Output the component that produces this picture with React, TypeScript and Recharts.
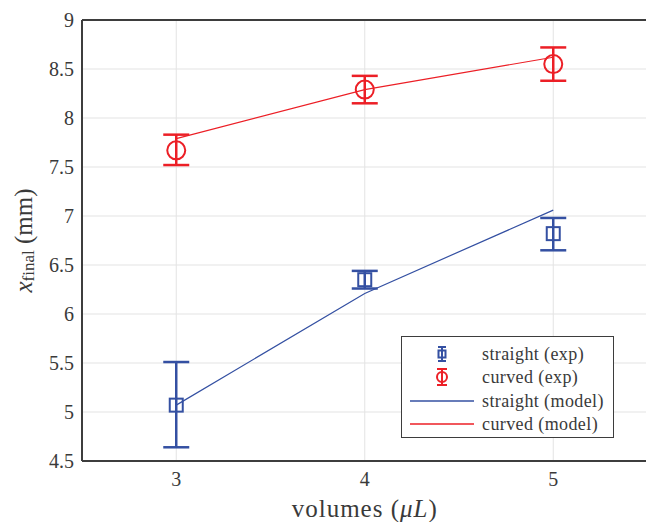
import { ComposedChart, Line, Scatter, ErrorBar, XAxis, YAxis, CartesianGrid, Legend, Label } from 'recharts';

const volumes = [3, 4, 5];
const straightExp = [5.07, 6.35, 6.82];
const straightErrLow = [0.43, 0.09, 0.17];
const straightErrHigh = [0.44, 0.09, 0.16];
const curvedExp = [7.67, 8.29, 8.55];
const curvedErrLow = [0.15, 0.14, 0.17];
const curvedErrHigh = [0.16, 0.14, 0.17];
const straightModel = [5.07, 6.21, 7.06];
const curvedModel = [7.79, 8.29, 8.62];
const xTicks = [3, 4, 5];
const yTicks = [4.5, 5, 5.5, 6, 6.5, 7, 7.5, 8, 8.5, 9];
const legendLabels = ['straight (exp)', 'curved (exp)', 'straight (model)', 'curved (model)'];

const BLUE = '#3450a2';
const RED = '#ec1f26';
const AXIS = '#3d3d3d';
const TEXT = '#3a3a3a';
const FONT = 'Liberation Serif, Times New Roman, serif';

const straightRows = volumes.map((v, i) => ({ v, y: straightExp[i], err: [straightErrLow[i], straightErrHigh[i]] }));
const curvedRows = volumes.map((v, i) => ({ v, y: curvedExp[i], err: [curvedErrLow[i], curvedErrHigh[i]] }));
const straightLine = volumes.map((v, i) => ({ v, y: straightModel[i] }));
const curvedLine = volumes.map((v, i) => ({ v, y: curvedModel[i] }));

const SquareMark = (p: any) => (
  <rect x={p.cx - 6.5} y={p.cy - 6.5} width={13} height={13} fill="none" stroke={BLUE} strokeWidth={2} />
);
const CircleMark = (p: any) => <circle cx={p.cx} cy={p.cy} r={9} fill="none" stroke={RED} strokeWidth={2} />;

const YTitle = ({ viewBox }: any) => {
  const cx = 23;
  const cy = viewBox.y + viewBox.height / 2;
  return (
    <text
      x={cx}
      y={cy}
      transform={`rotate(-90, ${cx}, ${cy})`}
      textAnchor="middle"
      dominantBaseline="central"
      fill={TEXT}
      style={{ fontFamily: FONT, fontSize: 25 }}
    >
      <tspan fontStyle="italic">x</tspan>
      <tspan style={{ fontSize: 17 }} dy={5}>final</tspan>
      <tspan dy={-5}> (mm)</tspan>
    </text>
  );
};

const XTitle = ({ viewBox }: any) => (
  <text
    x={viewBox.x + viewBox.width / 2}
    y={517}
    textAnchor="middle"
    fill={TEXT}
    style={{ fontFamily: FONT, fontSize: 25, letterSpacing: 1 }}
  >
    volumes (<tspan fontStyle="italic">μL</tspan>)
  </text>
);

const LegendBox = () => {
  const rows = [18, 41, 65, 88];
  return (
    <div style={{ width: 213, height: 102, boxSizing: 'border-box', border: `1px solid ${AXIS}`, background: '#fff' }}>
      <svg width={211} height={100} style={{ display: 'block' }}>
        {legendLabels.map((label, i) => {
          const y = rows[i] - 1;
          const color = i % 2 === 0 ? BLUE : RED;
          return (
            <g key={label}>
              {i === 0 && (
                <g stroke={color} strokeWidth={2} fill="none">
                  <line x1={40} x2={40} y1={y - 7} y2={y + 7} />
                  <line x1={36} x2={44} y1={y - 7} y2={y - 7} />
                  <line x1={36} x2={44} y1={y + 7} y2={y + 7} />
                  <rect x={36.5} y={y - 3.5} width={7} height={7} />
                </g>
              )}
              {i === 1 && (
                <g stroke={color} strokeWidth={2} fill="none">
                  <line x1={40} x2={40} y1={y - 8} y2={y + 8} />
                  <line x1={35} x2={45} y1={y - 8} y2={y - 8} />
                  <line x1={35} x2={45} y1={y + 8} y2={y + 8} />
                  <circle cx={40} cy={y} r={5} />
                </g>
              )}
              {i >= 2 && <line x1={8} x2={72} y1={y} y2={y} stroke={color} strokeWidth={1.5} />}
              <text
                x={80}
                y={y}
                dominantBaseline="central"
                fill={TEXT}
                style={{ fontFamily: FONT, fontSize: 18, letterSpacing: 0.4 }}
              >
                {label}
              </text>
            </g>
          );
        })}
      </svg>
    </div>
  );
};

export default function App() {
  const tickStyle = { fontSize: 20, fill: TEXT, fontFamily: FONT, style: { fontFamily: FONT } };
  return (
    <div
      style={{
        position: 'absolute',
        left: 0,
        top: 0,
        width: 646,
        height: 522,
        overflow: 'hidden',
        background: '#fff',
        fontFamily: FONT,
      }}
    >
      <ComposedChart width={660} height={522} margin={{ top: 20, right: 12.5, bottom: 0, left: 0 }} style={{ fontFamily: FONT }}>
        <CartesianGrid stroke="#e3e3e3" strokeWidth={1} />
        <XAxis
          type="number"
          dataKey="v"
          domain={[2.5, 5.5]}
          ticks={xTicks}
          allowDataOverflow
          height={61}
          tickLine={false}
          tickSize={0}
          tickMargin={11}
          tick={tickStyle}
          axisLine={{ stroke: AXIS, strokeWidth: 2 }}
        >
          <Label content={XTitle} />
        </XAxis>
        <XAxis
          xAxisId="xin"
          type="number"
          dataKey="v"
          domain={[2.5, 5.5]}
          ticks={xTicks}
          allowDataOverflow
          mirror
          tick={false}
          tickSize={5}
          tickLine={{ stroke: AXIS, strokeWidth: 2 }}
          axisLine={false}
        />
        <XAxis
          xAxisId="top"
          orientation="top"
          type="number"
          dataKey="v"
          domain={[2.5, 5.5]}
          ticks={xTicks}
          allowDataOverflow
          mirror
          tick={false}
          tickSize={5}
          tickLine={{ stroke: AXIS, strokeWidth: 2 }}
          axisLine={{ stroke: AXIS, strokeWidth: 2 }}
        />
        <YAxis
          type="number"
          domain={[4.5, 9]}
          ticks={yTicks}
          allowDataOverflow
          width={82}
          tickLine={false}
          tickSize={0}
          tickMargin={8}
          tick={tickStyle}
          axisLine={{ stroke: AXIS, strokeWidth: 2 }}
        >
          <Label content={YTitle} />
        </YAxis>
        <YAxis
          yAxisId="yin"
          type="number"
          domain={[4.5, 9]}
          ticks={yTicks}
          allowDataOverflow
          mirror
          tick={false}
          tickSize={5}
          tickLine={{ stroke: AXIS, strokeWidth: 2 }}
          axisLine={false}
        />
        <YAxis
          yAxisId="right"
          orientation="right"
          type="number"
          domain={[4.5, 9]}
          ticks={yTicks}
          allowDataOverflow
          mirror
          tick={false}
          tickSize={5}
          tickLine={{ stroke: AXIS, strokeWidth: 2 }}
          axisLine={{ stroke: AXIS, strokeWidth: 2 }}
        />
        <Line data={straightLine} dataKey="y" stroke={BLUE} strokeWidth={1.2} dot={false} isAnimationActive={false} />
        <Line data={curvedLine} dataKey="y" stroke={RED} strokeWidth={1.2} dot={false} isAnimationActive={false} />
        <Scatter data={straightRows} dataKey="y" shape={SquareMark} isAnimationActive={false}>
          <ErrorBar dataKey="err" direction="y" width={13} stroke={BLUE} strokeWidth={2.5} isAnimationActive={false} />
        </Scatter>
        <Scatter data={curvedRows} dataKey="y" shape={CircleMark} isAnimationActive={false}>
          <ErrorBar dataKey="err" direction="y" width={13} stroke={RED} strokeWidth={2.5} isAnimationActive={false} />
        </Scatter>
        <Legend
          layout="horizontal"
          verticalAlign="middle"
          align="center"
          content={LegendBox}
          wrapperStyle={{ left: 401, top: 336, width: 213, height: 102 }}
        />
      </ComposedChart>
    </div>
  );
}
